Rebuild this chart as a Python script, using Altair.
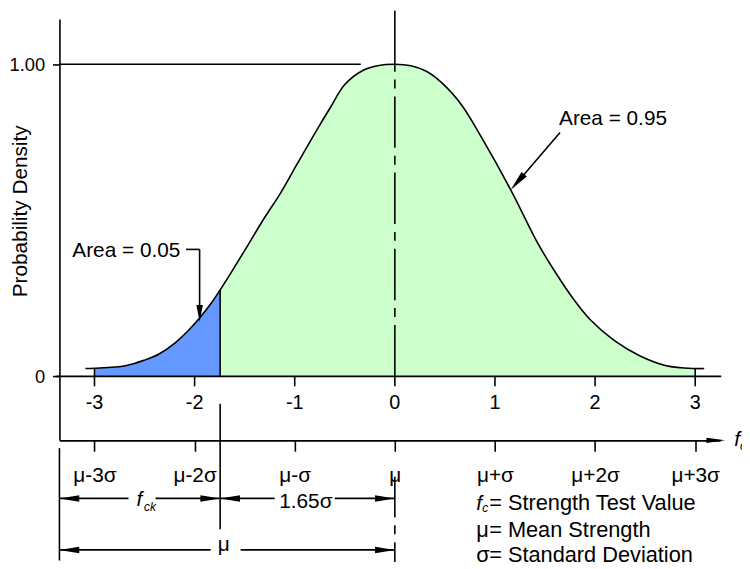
import altair as alt
import pandas as pd

# ---- values ----
# standardized strength (in sigma units) and relative probability density of the drawn curve
curve_x = [-3.09, -3.0, -2.69, -2.5, -2.36, -2.2, -2.065, -1.95, -1.835, -1.745, -1.64, -1.47,
           -1.31, -1.14, -0.98, -0.78, -0.65, -0.5, -0.32, -0.16, 0.0, 0.16, 0.31, 0.47, 0.67,
           0.87, 1.16, 1.43, 1.59, 1.79, 1.95, 2.19, 2.45, 2.71, 3.0, 3.09]
curve_y = [0.025, 0.026, 0.034, 0.052, 0.071, 0.106, 0.146, 0.187, 0.234, 0.277, 0.330, 0.419,
           0.504, 0.588, 0.678, 0.789, 0.858, 0.935, 0.98, 0.996, 1.0, 0.995, 0.978, 0.94, 0.868,
           0.763, 0.596, 0.425, 0.340, 0.245, 0.182, 0.115, 0.065, 0.034, 0.025, 0.025]

tick_values = [-3, -2, -1, 0, 1, 2, 3]
upper_tick_labels = ["-3", "-2", "-1", "0", "1", "2", "3"]
lower_tick_labels = ["μ-3σ", "μ-2σ", "μ-σ", "μ", "μ+σ", "μ+2σ", "μ+3σ"]
y_tick_values = [0, 1]
y_tick_labels = ["0", "1.00"]
y_title = "Probability Density"

f_ck = -1.745        # characteristic strength (drawn boundary of the 5 % tail)
mean = 0.0
area_labels = ["Area = 0.05", "Area = 0.95"]
dim_labels = ["1.65σ", "μ"]
legend_symbols = ["μ", "σ"]
legend_texts = ["= Strength Test Value", "= Mean Strength", "= Standard Deviation"]

# ---- styling ----
FONT = "Liberation Sans"
LW = 1.6
BLUE = "#6699FF"
GREEN = "#CCFFCC"
CURVE = "catmull-rom"
X_DOMAIN = [-3.35, 3.25]
Y_DOMAIN = [-0.205, 1.145]

xs = alt.Scale(domain=X_DOMAIN, nice=False, zero=False)
ys = alt.Scale(domain=Y_DOMAIN, nice=False, zero=False)

lbl_list = ",".join(f"'{s}'" for s in lower_tick_labels)
val_list = ",".join(str(v) for v in tick_values)
x_axis = alt.Axis(
    values=tick_values, labelExpr=f"[{lbl_list}][indexof([{val_list}], datum.value)]",
    tickSize=11, labelPadding=31, labelBaseline="alphabetic", labelFontSize=21,
    labelOverlap=False, labelFlush=False, labelBound=False, title=None)
ylbl = ",".join(f"'{s}'" for s in y_tick_labels)
yval = ",".join(str(v) for v in y_tick_values)
y_axis = alt.Axis(
    values=y_tick_values, labelExpr=f"[{ylbl}][indexof([{yval}], datum.value)]",
    tickSize=7, labelPadding=8, labelFontSize=18.5, labelOverlap=False, labelFlush=False,
    title=y_title, titleFontSize=21, titleFontWeight="normal", titleAngle=270,
    titleX=-33, titleY=194, titleAlign="center", titleBaseline="alphabetic")


def ex(f="x"):
    return alt.X(f"{f}:Q", scale=xs, axis=x_axis)


def ey(f="y"):
    return alt.Y(f"{f}:Q", scale=ys, axis=y_axis)


curve = pd.DataFrame({"x": curve_x, "y": curve_y})
lookup = dict(zip(curve_x, curve_y))
tail = curve[(curve.x >= -3) & (curve.x <= f_ck)]
body = curve[(curve.x >= f_ck) & (curve.x <= 3)]

area_tail = alt.Chart(tail).mark_area(color=BLUE, interpolate=CURVE).encode(x=ex(), y=ey())
area_body = alt.Chart(body).mark_area(color=GREEN, interpolate=CURVE).encode(x=ex(), y=ey())
line = alt.Chart(curve).mark_line(color="black", strokeWidth=LW, interpolate=CURVE).encode(
    x=ex(), y=ey())

# vertical edges of the shaded areas (up to the curve)
edges = pd.DataFrame({"x": [-3.0, f_ck, 3.0], "y": [0, 0, 0],
                      "y2": [lookup[-3.0], lookup[f_ck], lookup[3.0]]})
edge_rules = alt.Chart(edges).mark_rule(color="black", strokeWidth=LW).encode(
    x=ex(), y=ey(), y2=alt.Y2("y2"))

# upper (standardized) axis ticks and labels
up_ticks = pd.DataFrame({"x": tick_values, "y": 0.0, "y2": -0.032})
up_tick_rules = alt.Chart(up_ticks).mark_rule(color="black", strokeWidth=LW).encode(
    x=ex(), y=ey(), y2=alt.Y2("y2"))
up_lbl = pd.DataFrame({"x": tick_values, "y": -0.1036, "text": upper_tick_labels})
up_tick_text = alt.Chart(up_lbl).mark_text(
    font=FONT, fontSize=20, align="center", baseline="alphabetic", color="black").encode(
    x=ex(), y=ey(), text="text:N")

# solid construction lines
solid = pd.DataFrame([
    {"x": -3.38, "x2": 3.26, "y": 0.0, "y2": 0.0},          # zero baseline
    {"x": X_DOMAIN[0], "x2": -0.34, "y": 1.0, "y2": 1.0},   # peak level
    {"x": mean, "x2": mean, "y": 1.0, "y2": 1.172},         # mean line above peak
    {"x": f_ck, "x2": f_ck, "y": -0.088, "y2": -0.49},      # f_ck extension
    {"x": X_DOMAIN[0], "x2": X_DOMAIN[0], "y": -0.23, "y2": -0.59},
    {"x": X_DOMAIN[0], "x2": -2.66, "y": -0.391, "y2": -0.391},
    {"x": -2.39, "x2": f_ck, "y": -0.391, "y2": -0.391},
    {"x": f_ck, "x2": -1.20, "y": -0.391, "y2": -0.391},
    {"x": -0.60, "x2": mean, "y": -0.391, "y2": -0.391},
    {"x": X_DOMAIN[0], "x2": -1.84, "y": -0.556, "y2": -0.556},
    {"x": -1.54, "x2": mean, "y": -0.556, "y2": -0.556},
    {"x": -2.085, "x2": -1.95, "y": 0.4067, "y2": 0.4067},   # leader Area 0.05
    {"x": -1.95, "x2": -1.95, "y": 0.4067, "y2": 0.21},
    {"x": 1.650, "x2": 1.22, "y": 0.781, "y2": 0.62},        # leader Area 0.95
])
solid_rules = alt.Chart(solid).mark_rule(color="black", strokeWidth=LW).encode(
    x=ex(), x2=alt.X2("x2"), y=ey(), y2=alt.Y2("y2"))

dash_up = alt.Chart(pd.DataFrame({"x": [mean], "y": [0.0], "y2": [1.0]})).mark_rule(
    color="black", strokeWidth=LW, strokeDash=[52, 8, 9, 8]).encode(
    x=ex(), y=ey(), y2=alt.Y2("y2"))
dash_low = alt.Chart(pd.DataFrame({"x": [mean], "y": [-0.322], "y2": [-0.595]})).mark_rule(
    color="black", strokeWidth=LW, strokeDash=[52, 8, 9, 8], strokeDashOffset=11).encode(
    x=ex(), y=ey(), y2=alt.Y2("y2"))


def head(x, y, angle, length, half):
    w = round(half / (length / 2), 3)
    return {"x": x, "y": y, "angle": angle, "size": length * length,
            "shape": f"M0,0L-2,-{w}L-2,{w}Z"}


heads = pd.DataFrame([
    head(X_DOMAIN[0], -0.391, 180, 20, 3.3),
    head(f_ck, -0.391, 0, 20, 3.3),
    head(f_ck, -0.391, 180, 20, 3.3),
    head(mean, -0.391, 0, 20, 3.3),
    head(X_DOMAIN[0], -0.556, 180, 20, 3.3),
    head(mean, -0.556, 0, 20, 3.3),
    head(3.30, -0.205, 0, 19, 2.6),
    head(-1.95, 0.175, 90, 17, 3.3),
    head(1.156, 0.597, 130.8, 21, 3.5),
])
arrow_heads = alt.Chart(heads).mark_point(filled=True, color="black", opacity=1, strokeWidth=0).encode(
    x=ex(), y=ey(), shape=alt.Shape("shape:N", scale=None), size=alt.Size("size:Q", scale=None),
    angle=alt.Angle("angle:Q", scale=None))

# texts
area_txt = pd.DataFrame([
    {"x": -3.221, "y": 0.382, "text": area_labels[0]},
    {"x": 1.640, "y": 0.806, "text": area_labels[1]},
])
area_text = alt.Chart(area_txt).mark_text(
    font=FONT, fontSize=21, align="left", baseline="alphabetic", color="black").encode(
    x=ex(), y=ey(), text="text:N")
legend_txt = pd.DataFrame([
    {"x": 0.942, "y": -0.427, "text": legend_texts[0]},
    {"x": 0.942, "y": -0.516, "text": legend_texts[1]},
    {"x": 0.942, "y": -0.595, "text": legend_texts[2]},
    {"x": 0.813, "y": -0.516, "text": legend_symbols[0]},
    {"x": 0.813, "y": -0.595, "text": legend_symbols[1]},
])
legend_text = alt.Chart(legend_txt).mark_text(
    font=FONT, fontSize=22, align="left", baseline="alphabetic", color="black").encode(
    x=ex(), y=ey(), text="text:N")
center_txt = pd.DataFrame([
    {"x": -0.889, "y": -0.4205, "text": dim_labels[0]},
    {"x": -1.709, "y": -0.558, "text": dim_labels[1]},
])
center_text = alt.Chart(center_txt).mark_text(
    font=FONT, fontSize=21, align="center", baseline="alphabetic", color="black").encode(
    x=ex(), y=ey(), text="text:N")
f_txt = pd.DataFrame([
    {"x": -2.58, "y": -0.414, "text": "f"},
    {"x": 0.813, "y": -0.427, "text": "f"},
    {"x": 3.389, "y": -0.224, "text": "f"},
])
f_text = alt.Chart(f_txt).mark_text(
    font=FONT, fontSize=21, fontStyle="italic", align="left", baseline="alphabetic",
    color="black").encode(x=ex(), y=ey(), text="text:N")
sub_txt = pd.DataFrame([
    {"x": -2.505, "y": -0.430, "text": "ck"},
    {"x": 0.872, "y": -0.436, "text": "c"},
    {"x": 3.448, "y": -0.237, "text": "c"},
])
sub_text = alt.Chart(sub_txt).mark_text(
    font=FONT, fontSize=12, fontStyle="italic", align="left", baseline="alphabetic",
    color="black").encode(x=ex(), y=ey(), text="text:N")

chart = alt.layer(
    area_tail, area_body, line, edge_rules, up_tick_rules, up_tick_text, solid_rules,
    dash_up, dash_low, arrow_heads, area_text, legend_text, center_text, f_text, sub_text
).properties(
    width=668, height=426,
    autosize=alt.AutoSizeParams(type="none"),
    padding={"left": 52, "top": 8, "right": 22, "bottom": 127},
    background="white",
).configure_view(stroke=None).configure_axis(
    grid=False, domainColor="black", domainWidth=LW, tickColor="black", tickWidth=LW,
    labelColor="black", labelFont=FONT, titleFont=FONT, titleColor="black")

chart.save("out.html", embed_options={"renderer": "svg", "actions": False})
